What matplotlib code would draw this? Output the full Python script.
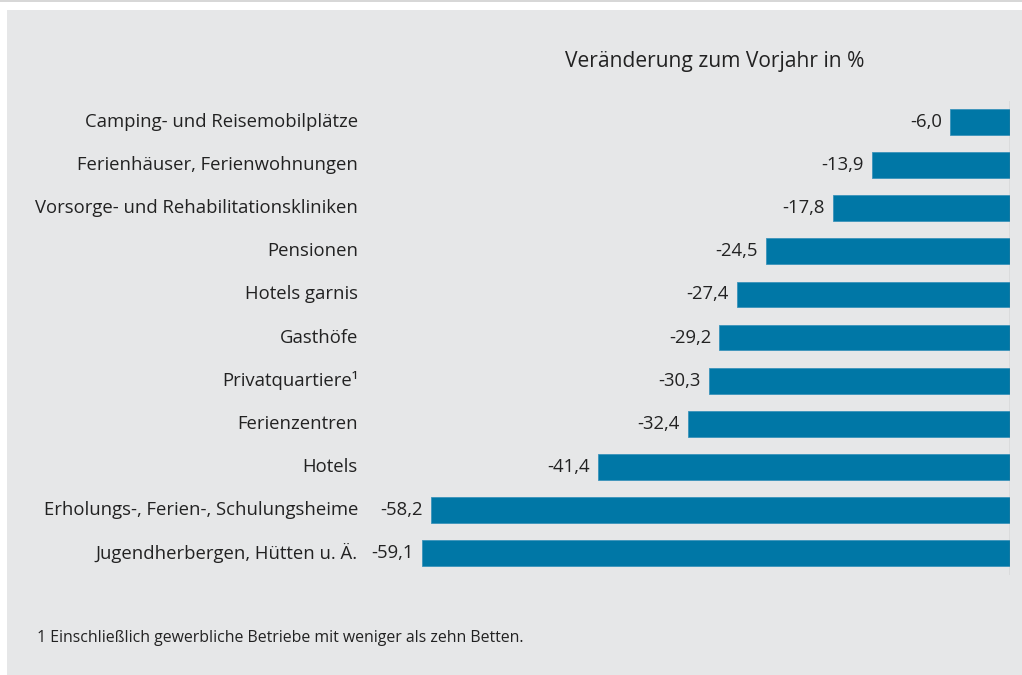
import matplotlib
matplotlib.use("Agg")
import matplotlib.pyplot as plt
from matplotlib.patches import Rectangle
from matplotlib.lines import Line2D
import matplotlib.transforms as mtransforms

categories = [
    "Camping- und Reisemobilplätze",
    "Ferienhäuser, Ferienwohnungen",
    "Vorsorge- und Rehabilitationskliniken",
    "Pensionen",
    "Hotels garnis",
    "Gasthöfe",
    "Privatquartiere\u00b9",
    "Ferienzentren",
    "Hotels",
    "Erholungs-, Ferien-, Schulungsheime",
    "Jugendherbergen, Hütten u. Ä.",
]
values = [-6.0, -13.9, -17.8, -24.5, -27.4, -29.2, -30.3, -32.4, -41.4, -58.2, -59.1]
title = "Veränderung zum Vorjahr in %"
footnote = "1 Einschließlich gewerbliche Betriebe mit weniger als zehn Betten."

W, H = 1022, 675
plt.rcParams['font.family'] = ['Open Sans', 'DejaVu Sans']
fig = plt.figure(figsize=(W / 100, H / 100), dpi=100)
fig.patch.set_facecolor("white")

bg = "#e6e7e8"
fig.add_artist(Rectangle((7 / W, 0), 1 - 7 / W, 1 - 10 / H, transform=fig.transFigure,
                         facecolor=bg, edgecolor="none", zorder=0))
fig.add_artist(Line2D([0, 1], [1 - 0.5 / H, 1 - 0.5 / H], transform=fig.transFigure,
                      color="#d0d0d0", lw=1.2, zorder=1))

# axes: x 420 -> 1010 px ; y 100.5 -> 574.6 px
ax_left, ax_right = 420, 1010
ax_top, ax_bot = 100.5, 574.6
ax = fig.add_axes([ax_left / W, 1 - ax_bot / H, (ax_right - ax_left) / W, (ax_bot - ax_top) / H])
ax.patch.set_visible(False)

n = len(categories)
ypos = list(range(n))
ax.barh(ypos, values, height=0.6, color="#0077a6", edgecolor="#3a93bb", linewidth=0.6, zorder=2)
ax.set_xlim(-59.3, 0)
ax.set_ylim(n - 0.5, -0.5)
ax.axvline(0, color="#8c8c8c", lw=0.9, zorder=3)

for s in ax.spines.values():
    s.set_visible(False)
ax.set_xticks([])
ax.set_yticks([])

txt_color = "#222222"
fs = 13.3
trans = mtransforms.blended_transform_factory(fig.transFigure, ax.transData)
for y, v, c in zip(ypos, values, categories):
    ax.annotate(f"{v:.1f}".replace(".", ","), xy=(v, y), xytext=(-6, 0), textcoords="offset points",
                ha="right", va="center", fontsize=fs, color=txt_color)
    fig.text(358 / W, y, c, ha="right", va="center", fontsize=fs, color=txt_color, transform=trans)

fig.text(715 / W, 1 - 62 / H, title, ha="center", va="center", fontsize=15.1, color=txt_color)
fig.text(37 / W, 1 - 638 / H, footnote, ha="left", va="center", fontsize=11.4, color=txt_color)

fig.savefig("out.png", dpi=100, facecolor=fig.get_facecolor())
